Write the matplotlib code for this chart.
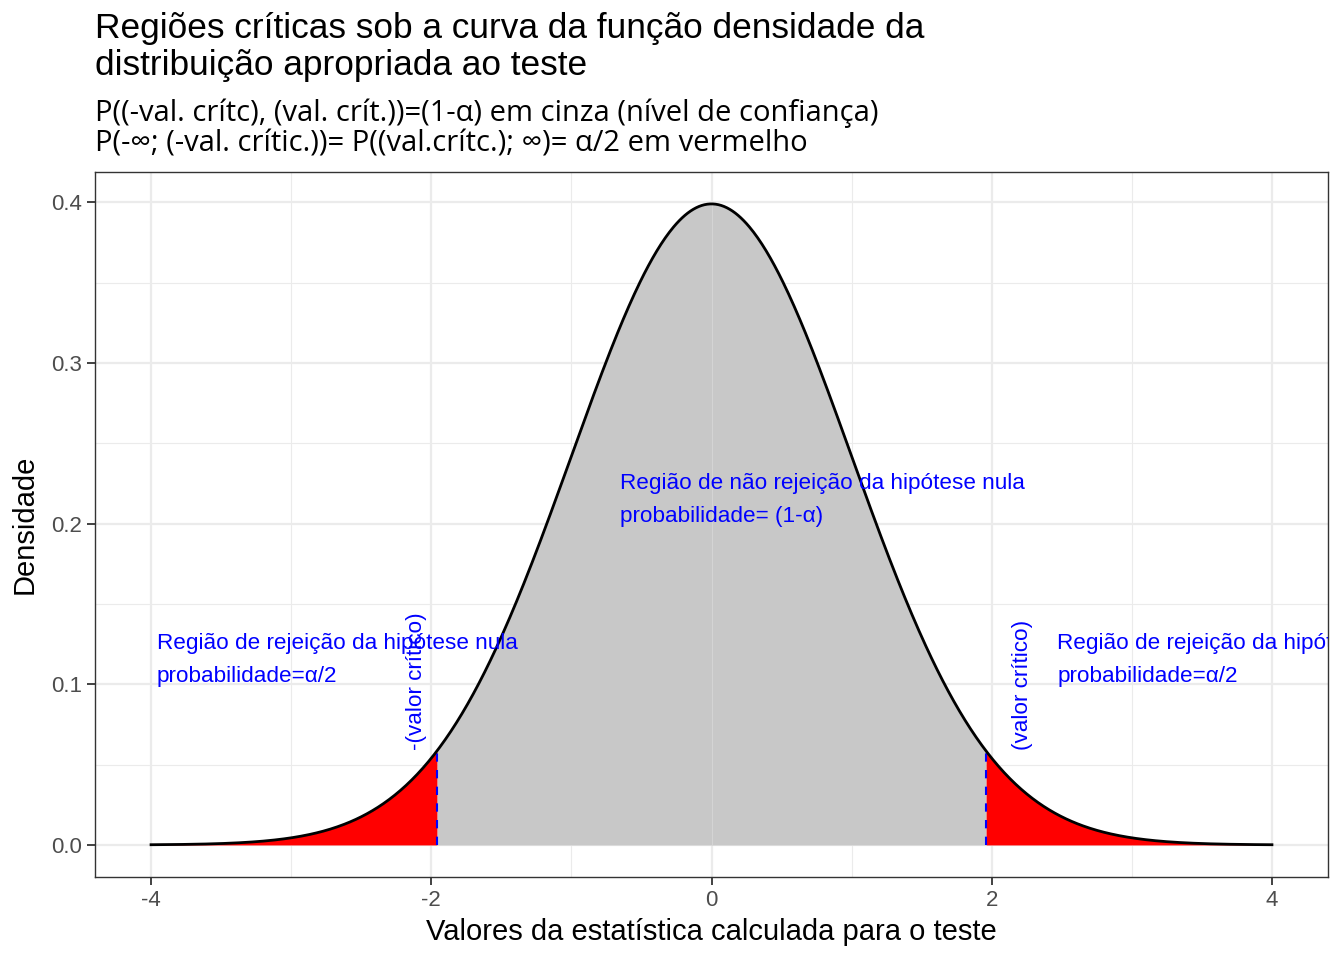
import numpy as np
import matplotlib.pyplot as plt

# dados: curva normal padrão e valor crítico (alfa = 5%)
x_min, x_max = -4, 4
val_crit = 1.96
x = np.linspace(x_min, x_max, 801)
dens = np.exp(-x ** 2 / 2) / np.sqrt(2 * np.pi)
dens_crit = np.exp(-val_crit ** 2 / 2) / np.sqrt(2 * np.pi)

x_ticks = [-4, -2, 0, 2, 4]
y_ticks = [0.0, 0.1, 0.2, 0.3, 0.4]

txt_centro = "Região de não rejeição da hipótese nula\nprobabilidade= (1-α)"
txt_cauda = "Região de rejeição da hipótese nula\nprobabilidade=α/2"

plt.rcParams['font.family'] = ['Liberation Sans', 'DejaVu Sans']

fig = plt.figure(figsize=(13.44, 9.6), dpi=100)
ax = fig.add_axes([95 / 1344, 1 - 877 / 960, (1328 - 95) / 1344, (877 - 172) / 960])

ax.set_xlim(-4.4, 4.4)
ax.set_ylim(-0.01995, 0.4188)

# grade estilo theme_bw
for v in [-3, -1, 1, 3]:
    ax.axvline(v, color='#EBEBEB', lw=0.8, zorder=0)
for v in [0.05, 0.15, 0.25, 0.35]:
    ax.axhline(v, color='#EBEBEB', lw=0.8, zorder=0)
for v in x_ticks:
    ax.axvline(v, color='#EBEBEB', lw=1.6, zorder=0)
for v in y_ticks:
    ax.axhline(v, color='#EBEBEB', lw=1.6, zorder=0)

centro = (x >= -val_crit) & (x <= val_crit)
ax.fill_between(x, 0, dens, where=centro, color='#C8C8C8', lw=0, zorder=1)
ax.fill_between(x, 0, dens, where=x <= -val_crit, color='red', lw=0, zorder=1)
ax.fill_between(x, 0, dens, where=x >= val_crit, color='red', lw=0, zorder=1)
ax.vlines(0, 0, 0.3989, color='#D4D4D4', lw=0.8, zorder=1.5)
ax.plot(x, dens, color='black', lw=2, zorder=3)
ax.vlines([-val_crit, val_crit], 0, dens_crit, colors='blue', linestyles=(0, (4, 4)), lw=1.5, zorder=2)

fs_ann = 16.2
ax.text(-0.656, 0.2146, txt_centro, color='blue', fontsize=fs_ann, ha='left', va='center', linespacing=1.75, zorder=4)
ax.text(-3.96, 0.1148, txt_cauda, color='blue', fontsize=fs_ann, ha='left', va='center', linespacing=1.75, zorder=4, clip_on=True)
ax.text(2.467, 0.1148, txt_cauda, color='blue', fontsize=fs_ann, ha='left', va='center', linespacing=1.75, zorder=4, clip_on=True)
ax.text(-2.103, 0.059, "-(valor crítico)", color='blue', fontsize=fs_ann, rotation=90, ha='center', va='bottom', zorder=4)
ax.text(2.218, 0.059, "(valor crítico)", color='blue', fontsize=fs_ann, rotation=90, ha='center', va='bottom', zorder=4)

ax.set_xticks(x_ticks)
ax.set_xticklabels([str(t) for t in x_ticks])
ax.set_yticks(y_ticks)
ax.set_yticklabels([f"{t:.1f}" for t in y_ticks])
ax.tick_params(colors='#333333', labelcolor='#4D4D4D', labelsize=16, length=5.5, width=1.3, pad=4)
for s in ax.spines.values():
    s.set_color('#333333')
    s.set_linewidth(1)

ax.set_xlabel("Valores da estatística calculada para o teste", fontsize=21, labelpad=5)
ax.set_ylabel("Densidade", fontsize=21, labelpad=9)

fig.text(95 / 1344, 1 - 12 / 960, "Regiões críticas sob a curva da função densidade da\ndistribuição apropriada ao teste",
         fontsize=25.4, ha='left', va='top', linespacing=1.15)
fig.text(95 / 1344, 1 - 98 / 960, "P((-val. crítc), (val. crít.))=(1-α) em cinza (nível de confiança)\nP(-∞; (-val. crític.))= P((val.crítc.); ∞)= α/2 em vermelho",
         fontsize=21, ha='left', va='top', linespacing=1.1, family=['Open Sans', 'DejaVu Sans'])

fig.savefig('out.png', dpi=100)
